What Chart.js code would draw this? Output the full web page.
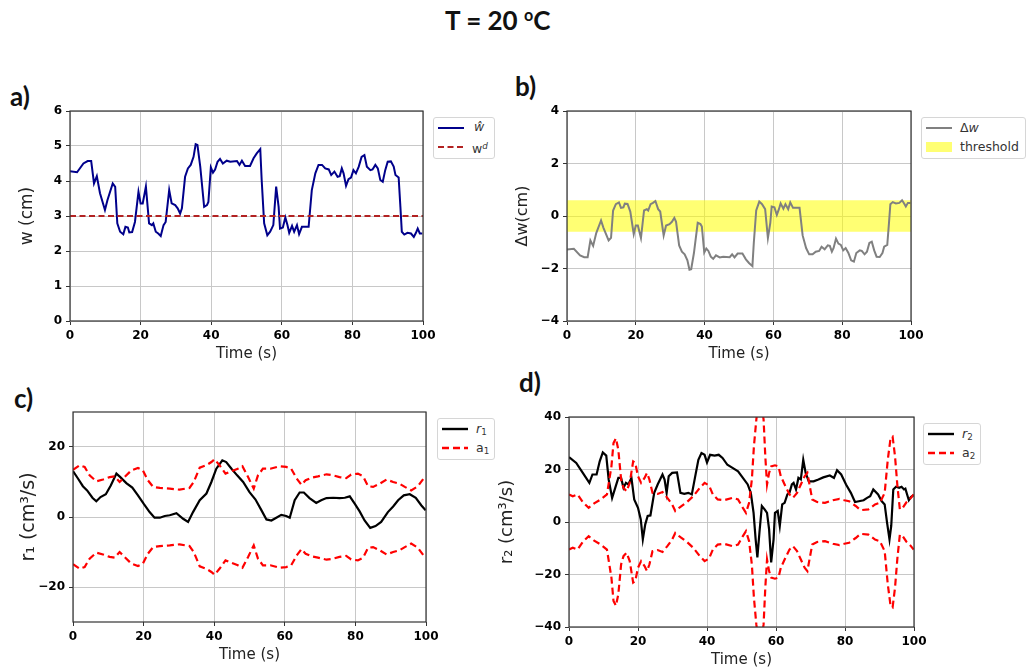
<!DOCTYPE html>
<html>
<head>
<meta charset="utf-8">
<script src="https://cdn.jsdelivr.net/npm/chart.js@4.4.0/dist/chart.umd.min.js"></script>
<style>
  body { margin: 0; width: 1035px; height: 670px; overflow: hidden; background: #fff; position: relative; font-family: 'DejaVu Sans'; }
  canvas { position: absolute; }
  .lbl { position: absolute; font-family: Lato; font-weight: bold; color: #111; white-space: nowrap; }
  .lbl sup { font-size: 0.62em; vertical-align: 0.55em; }
  .leg { position: absolute; border: 1px solid #d6d6d6; border-radius: 3px; background: #fff; font-size: 12.5px; color: #333; }
  .leg svg { position: absolute; left: 4px; }
  .leg span { position: absolute; line-height: 14px; white-space: nowrap; }
  .leg sub { font-size: 0.7em; vertical-align: -0.25em; }
  .leg sup { font-size: 0.7em; vertical-align: 0.5em; }
</style>
</head>
<body>
<div class="lbl" style="left:445px;top:4px;font-size:26px">T = 20 <sup>o</sup>C</div>
<div class="lbl" style="left:10px;top:80px;font-size:26px">a)</div>
<div class="lbl" style="left:515px;top:70px;font-size:26px">b)</div>
<div class="lbl" style="left:14px;top:382px;font-size:26px">c)</div>
<div class="lbl" style="left:519px;top:366px;font-size:26px">d)</div>

<canvas id="chartA"></canvas>
<canvas id="chartB"></canvas>
<canvas id="chartC"></canvas>
<canvas id="chartD"></canvas>

<!-- legends -->
<div class="leg" style="left:433px;top:117px;width:60px;height:40px">
  <svg width="28" height="40" style="top:0"><line x1="0" y1="10" x2="26" y2="10" stroke="#00008b" stroke-width="2"/><line x1="0" y1="29" x2="26" y2="29" stroke="#b22222" stroke-width="2" stroke-dasharray="6,3.5"/></svg>
  <span style="left:40px;top:2px"><i>ŵ</i></span>
  <span style="left:38px;top:21px">w<sup><i>d</i></sup></span>
</div>
<div class="leg" style="left:921px;top:117px;width:103px;height:40px">
  <svg width="28" height="40" style="top:0"><line x1="0" y1="10" x2="26" y2="10" stroke="#808080" stroke-width="2"/><rect x="0" y="24" width="26" height="10" fill="rgba(255,255,0,0.55)"/></svg>
  <span style="left:38px;top:3px">Δ<i>w</i></span>
  <span style="left:38px;top:22px">threshold</span>
</div>
<div class="leg" style="left:437px;top:418px;width:56px;height:40px">
  <svg width="28" height="40" style="top:0"><line x1="0" y1="10" x2="26" y2="10" stroke="#000" stroke-width="2.4"/><line x1="0" y1="29" x2="26" y2="29" stroke="#ff0000" stroke-width="2.4" stroke-dasharray="7,4"/></svg>
  <span style="left:38px;top:3px"><i>r</i><sub>1</sub></span>
  <span style="left:38px;top:22px">a<sub>1</sub></span>
</div>
<div class="leg" style="left:923px;top:423px;width:56px;height:40px">
  <svg width="28" height="40" style="top:0"><line x1="0" y1="10" x2="26" y2="10" stroke="#000" stroke-width="2.4"/><line x1="0" y1="29" x2="26" y2="29" stroke="#ff0000" stroke-width="2.4" stroke-dasharray="7,4"/></svg>
  <span style="left:38px;top:3px"><i>r</i><sub>2</sub></span>
  <span style="left:38px;top:22px">a<sub>2</sub></span>
</div>

<script>
// ---- data ----
const xTicks = [0, 20, 40, 60, 80, 100];

// a) measured width and the set point
const tW = [0, 2, 3.8, 5, 6, 6.8, 7.6, 8.5, 9.9, 10.6, 12.1, 12.8, 13.4, 14.2, 15.1, 15.7, 16.4, 16.8, 17.6, 18.4,
  19.4, 20.0, 20.6, 21.5, 22.4, 23.2, 23.6, 24.3, 25.0, 25.7, 26.5, 27.1, 28.1, 28.8, 29.8, 30.5, 31.2, 31.7, 32.6, 33.4,
  34.2, 35.0, 35.6, 36.1, 36.9, 38.0, 38.8, 39.2, 39.9, 40.5, 41.1, 41.8, 42.5, 43.3, 44.4, 45.4, 47.3, 48.0, 48.7, 49.6,
  51.0, 52.0, 52.9, 53.9, 54.3, 55.0, 55.9, 56.7, 57.6, 58.4, 59.1, 59.5, 60.3, 61.0, 61.6, 62.1, 62.9, 63.5, 64.3, 64.9,
  65.7, 66.6, 67.6, 68.5, 69.5, 70.4, 71.4, 72.3, 73.3, 74.0, 74.9, 75.8, 76.4, 77.0, 77.5, 78.2, 78.9, 79.6, 80.3, 81.0,
  81.8, 82.6, 83.4, 84.1, 85.1, 85.7, 86.5, 87.2, 87.9, 88.6, 89.3, 90.0, 90.9, 91.7, 92.2, 93.1, 93.6, 94.0, 94.7, 95.6,
  96.6, 97.4, 98.0, 98.5, 99.1, 99.8];
const wHat = [4.28, 4.25, 4.5, 4.57, 4.57, 3.93, 4.14, 3.65, 3.17, 3.45, 3.93, 3.83, 2.79, 2.55, 2.48, 2.69, 2.67, 2.53, 2.54, 2.83,
  3.69, 3.36, 3.36, 3.84, 2.79, 2.74, 2.79, 2.55, 2.5, 2.43, 2.74, 2.83, 3.74, 3.36, 3.31, 3.22, 3.07, 3.22, 4.12, 4.36,
  4.46, 4.69, 5.05, 5.03, 4.41, 3.26, 3.31, 3.4, 4.39, 4.24, 4.33, 4.55, 4.63, 4.5, 4.58, 4.55, 4.57, 4.46, 4.58, 4.43,
  4.43, 4.65, 4.79, 4.91, 4.03, 2.79, 2.45, 2.55, 2.74, 3.84, 3.26, 2.64, 2.67, 2.96, 2.74, 2.52, 2.72, 2.55, 2.74, 2.48,
  2.69, 2.69, 2.69, 3.74, 4.22, 4.46, 4.46, 4.36, 4.33, 4.17, 4.27, 4.12, 4.14, 4.36, 4.22, 3.86, 4.05, 4.1, 4.31, 4.22,
  4.41, 4.69, 4.74, 4.41, 4.31, 4.33, 4.46, 4.36, 4.03, 3.98, 4.31, 4.55, 4.56, 4.41, 4.17, 4.1, 3.26, 2.55, 2.47, 2.52,
  2.5, 2.4, 2.52, 2.64, 2.5, 2.5];
const wDesired = [3, 3];
const wDesiredT = [0, 100];
const yTicksA = [0, 1, 2, 3, 4, 5, 6];

// b) deviation from the set point, same time stamps as a)
const dW = [-1.28, -1.25, -1.5, -1.57, -1.57, -0.93, -1.14, -0.65, -0.17, -0.45, -0.93, -0.83, 0.21, 0.45, 0.52, 0.31, 0.33, 0.47, 0.46, 0.17,
  -0.69, -0.36, -0.36, -0.84, 0.21, 0.26, 0.21, 0.45, 0.5, 0.57, 0.26, 0.17, -0.74, -0.36, -0.31, -0.22, -0.07, -0.22, -1.12, -1.36,
  -1.46, -1.69, -2.05, -2.03, -1.41, -0.26, -0.31, -0.4, -1.39, -1.24, -1.33, -1.55, -1.63, -1.5, -1.58, -1.55, -1.57, -1.46, -1.58, -1.43,
  -1.43, -1.65, -1.79, -1.91, -1.03, 0.21, 0.55, 0.45, 0.26, -0.84, -0.26, 0.36, 0.33, 0.04, 0.26, 0.48, 0.28, 0.45, 0.26, 0.52,
  0.31, 0.31, 0.31, -0.74, -1.22, -1.46, -1.46, -1.36, -1.33, -1.17, -1.27, -1.12, -1.14, -1.36, -1.22, -0.86, -1.05, -1.1, -1.31, -1.22,
  -1.41, -1.69, -1.74, -1.41, -1.31, -1.33, -1.46, -1.36, -1.03, -0.98, -1.31, -1.55, -1.56, -1.41, -1.17, -1.1, -0.26, 0.45, 0.53, 0.48,
  0.5, 0.6, 0.48, 0.36, 0.5, 0.5];
const bandT = [0, 100];
const bandHigh = [0.6, 0.6];
const bandLow = [-0.6, -0.6];
const yTicksB = [-4, -2, 0, 2, 4];

// c) r1 and its bounds a1
const tR1 = [0, 1.4, 2.8, 4.0, 5.5, 6.6, 7.8, 9.3, 10.7, 12.3, 13.4, 15.1, 16.8, 18.4, 20.0, 21.7, 23.1, 24.6, 26.0, 27.4,
  29.3, 31.2, 32.6, 34.0, 35.9, 37.8, 39.2, 40.6, 42.3, 43.4, 44.9, 46.5, 48.2, 50.0, 51.7, 53.4, 54.8, 56.2, 57.6, 59.0,
  60.4, 61.4, 62.8, 64.2, 65.4, 67.0, 68.9, 70.3, 71.8, 73.7, 75.5, 77.0, 78.4, 79.8, 81.2, 82.6, 84.2, 85.7, 87.3, 89.2,
  90.7, 92.1, 93.7, 95.4, 97.1, 98.7, 99.9];
const r1 = [13.1, 11.0, 8.8, 7.6, 5.5, 4.5, 5.7, 6.5, 9.0, 12.4, 11.4, 9.7, 8.4, 6.2, 3.8, 1.4, -0.2, -0.2, 0.3, 0.5,
  1.1, -0.5, -1.4, 1.4, 4.8, 6.7, 10.0, 13.8, 16.2, 15.7, 13.8, 11.9, 10.0, 7.1, 5.0, 1.9, -0.7, -1.0, -0.2, 0.6,
  0.3, -0.2, 4.8, 7.0, 7.0, 5.4, 4.0, 4.8, 5.4, 5.5, 5.4, 5.5, 5.9, 3.8, 1.6, -1.0, -3.1, -2.6, -1.4, 1.4,
  3.0, 4.8, 6.2, 6.5, 5.5, 3.3, 1.9];
const tA1 = [0, 1.9, 3.3, 4.7, 6.6, 8.5, 10.4, 11.8, 13.2, 14.6, 16.5, 18.4, 19.8, 21.2, 22.7, 24.6, 27.4, 30.2, 33.0, 34.2,
  35.9, 37.8, 39.2, 40.1, 41.5, 43.2, 44.9, 46.7, 48.0, 49.6, 51.2, 52.4, 53.8, 55.9, 58.5, 60.4, 61.8, 63.3, 64.7, 65.9,
  67.5, 69.4, 71.8, 73.7, 75.5, 77.4, 78.8, 80.7, 82.2, 83.6, 85.0, 86.9, 88.8, 90.7, 92.5, 94.0, 95.8, 97.7, 99.6];
const a1Up = [13.5, 14.8, 14.3, 11.9, 10.2, 10.7, 11.4, 11.6, 10.0, 11.4, 13.3, 14.0, 13.3, 10.5, 8.6, 8.3, 8.1, 7.8, 8.3, 10.0,
  14.1, 14.8, 15.7, 16.5, 14.8, 12.4, 13.1, 13.8, 14.5, 11.4, 8.1, 11.9, 13.8, 13.8, 14.5, 14.3, 13.8, 11.1, 9.2, 10.5,
  11.2, 11.6, 12.2, 11.9, 11.4, 11.1, 12.1, 12.4, 11.6, 8.8, 8.6, 9.5, 10.7, 10.0, 9.5, 8.6, 7.6, 8.8, 11.4];
const a1Low = [-13.5, -14.8, -14.3, -11.9, -10.2, -10.7, -11.4, -11.6, -10.0, -11.4, -13.3, -14.0, -13.3, -10.5, -8.6, -8.3, -8.1, -7.8, -8.3, -10.0,
  -14.1, -14.8, -15.7, -16.5, -14.8, -12.4, -13.1, -13.8, -14.5, -11.4, -8.1, -11.9, -13.8, -13.8, -14.5, -14.3, -13.8, -11.1, -9.2, -10.5,
  -11.2, -11.6, -12.2, -11.9, -11.4, -11.1, -12.1, -12.4, -11.6, -8.8, -8.6, -9.5, -10.7, -10.0, -9.5, -8.6, -7.6, -8.8, -11.4];
const yTicksC = [-20, 0, 20];

// d) r2 and its bounds a2
const tR2 = [0, 2.1, 4.0, 5.9, 6.8, 8.0, 8.9, 9.8, 10.8, 11.5, 12.5, 13.4, 14.3, 15.1, 15.8, 16.5, 17.2, 18.1, 18.9, 20.0,
  20.8, 21.4, 22.1, 22.8, 23.6, 24.7, 25.7, 26.4, 27.1, 27.7, 28.3, 28.9, 29.9, 31.3, 32.3, 33.4, 34.6, 35.6, 36.5, 37.5,
  38.4, 39.3, 40.0, 40.9, 42.2, 43.4, 44.5, 45.9, 47.4, 49.0, 50.4, 51.8, 52.7, 53.5, 54.1, 54.6, 55.2, 55.9, 56.7, 57.4,
  58.0, 58.6, 59.3, 59.7, 60.5, 61.1, 61.8, 62.5, 63.3, 63.9, 64.6, 65.1, 65.8, 66.5, 67.2, 67.9, 68.6, 69.5, 70.9, 72.3,
  73.7, 75.6, 76.8, 77.7, 78.9, 80.3, 81.7, 82.9, 84.0, 85.4, 86.4, 87.3, 88.2, 89.6, 90.6, 91.5, 92.2, 92.9, 93.4, 94.0,
  94.8, 95.7, 96.4, 97.1, 97.5, 98.5, 99.1, 99.9];
const r2 = [24.7, 22.5, 18.7, 14.9, 18.1, 18.1, 23.1, 26.5, 25.3, 16.2, 9.2, 13.0, 16.8, 16.8, 13.0, 14.9, 14.3, 16.8, 8.6, 5.4,
  1.0, -6.6, -0.9, 2.3, 2.5, 11.1, 14.3, 16.2, 18.1, 16.2, 11.1, 17.4, 18.7, 18.9, 11.1, 10.7, 11.1, 10.5, 16.8, 23.7,
  26.3, 25.6, 22.7, 25.6, 25.3, 25.6, 24.4, 21.8, 20.6, 19.3, 16.8, 14.3, 11.1, 3.5, -6.6, -13.5, -4.0, 6.1, 4.8, 3.5,
  -2.8, -15.4, -6.6, 3.5, 4.2, -1.5, 6.7, 7.3, 10.5, 11.1, 14.3, 14.9, 12.4, 16.8, 16.2, 23.7, 18.7, 15.5, 15.5, 16.2,
  17.0, 17.7, 16.8, 19.7, 18.1, 14.3, 11.1, 7.6, 7.9, 8.3, 9.2, 9.8, 12.4, 10.5, 8.0, 6.7, -0.3, -6.6, -1.5, 12.4,
  13.4, 13.0, 13.4, 12.4, 12.7, 8.3, 9.5, 10.2];
const tA2 = [0, 1.1, 2.5, 4.0, 5.7, 7.3, 9.2, 11.0, 12.3, 12.9, 13.6, 14.3, 15.1, 15.8, 16.7, 17.6, 18.6, 19.2, 20.0, 20.9,
  21.9, 22.6, 23.3, 24.2, 25.7, 27.1, 28.5, 29.9, 30.8, 32.3, 34.2, 36.0, 37.9, 39.3, 40.6, 41.7, 43.1, 45.0, 47.4, 49.0,
  50.4, 51.3, 52.2, 53.0, 53.6, 54.3, 55.3, 56.4, 56.9, 57.4, 58.0, 58.6, 59.7, 60.7, 61.4, 62.5, 63.9, 64.9, 66.1, 67.2,
  68.3, 69.1, 69.8, 70.5, 71.9, 74.2, 76.5, 78.4, 79.8, 81.2, 83.1, 84.5, 86.8, 88.7, 90.1, 91.5, 92.4, 93.2, 93.8, 94.5,
  95.2, 95.9, 96.8, 97.8, 99.0, 99.9];
const a2Up = [10.5, 9.8, 10.5, 7.6, 5.4, 7.1, 8.6, 10.5, 21.2, 30.1, 31.9, 27.5, 16.2, 13.0, 11.7, 14.9, 23.1, 22.5, 17.4, 14.9,
  16.8, 18.7, 16.2, 11.1, 10.7, 11.4, 9.2, 6.7, 4.2, 5.8, 7.6, 9.8, 13.0, 14.9, 13.9, 10.5, 8.6, 8.3, 9.2, 8.6,
  5.4, 3.5, 7.3, 16.2, 28.8, 39, 50, 39, 25, 14.3, 18.7, 21.2, 21.6, 21.2, 17.4, 14.3, 10.5, 9.2, 11.1, 14.3,
  17.4, 18.7, 13.6, 8.6, 7.6, 7.3, 8.3, 8.8, 8.3, 7.9, 6.1, 4.5, 4.8, 6.7, 7.3, 11.1, 23.7, 31.9, 32.5, 25,
  13.6, 4.8, 5.5, 7.5, 9, 10.5];
const a2Low = [-10.5, -9.8, -10.5, -7.6, -5.4, -7.1, -8.6, -10.5, -21.2, -30.1, -31.9, -27.5, -16.2, -13.0, -11.7, -14.9, -23.1, -22.5, -17.4, -14.9,
  -16.8, -18.7, -16.2, -11.1, -10.7, -11.4, -9.2, -6.7, -4.2, -5.8, -7.6, -9.8, -13.0, -14.9, -13.9, -10.5, -8.6, -8.3, -9.2, -8.6,
  -5.4, -3.5, -7.3, -16.2, -28.8, -39, -50, -39, -25, -14.3, -18.7, -21.2, -21.6, -21.2, -17.4, -14.3, -10.5, -9.2, -11.1, -14.3,
  -17.4, -18.7, -13.6, -8.6, -7.6, -7.3, -8.3, -8.8, -8.3, -7.9, -6.1, -4.5, -4.8, -6.7, -7.3, -11.1, -23.7, -31.9, -32.5, -25,
  -13.6, -4.8, -5.5, -7.5, -9, -10.5];
const yTicksD = [-40, -20, 0, 20, 40];

// ---- helpers ----
const pts = (ts, vs) => ts.map((t, i) => ({ x: t, y: vs[i] }));
const minus = v => String(v).replace('-', '\u2212');

// black frame round the plot area (all four spines)
const frame = {
  id: 'frame',
  afterDatasetsDraw(chart) {
    const { ctx, chartArea: a } = chart;
    ctx.save();
    ctx.strokeStyle = '#333';
    ctx.lineWidth = 1.2;
    ctx.strokeRect(a.left, a.top, a.right - a.left, a.bottom - a.top);
    ctx.restore();
  }
};

function line(data, color, width, dash, order) {
  return {
    data: data, borderColor: color, borderWidth: width, borderDash: dash || [],
    pointRadius: 0, tension: 0, fill: false, order: order
  };
}

// box = plot area in page pixels; axisW = room left of the plot for ticks + title
function panel(id, box, yMin, yMax, yTicks, yTitle, titleSize, titlePad, datasets) {
  const padT = 20, padR = 25, axisH = 45;
  const cv = document.getElementById(id);
  cv.width = box.r - box.l + box.axisW + padR;
  cv.height = box.b - box.t + padT + axisH;
  cv.style.left = (box.l - box.axisW) + 'px';
  cv.style.top = (box.t - padT) + 'px';

  const tickFont = { family: 'DejaVu Sans', size: 12, weight: 'bold' };
  const grid = { color: '#c8c8c8', lineWidth: 1, tickColor: '#333', tickLength: 4 };

  return new Chart(cv, {
    type: 'line',
    data: { datasets: datasets },
    options: {
      responsive: false,
      animation: false,
      devicePixelRatio: 1,
      layout: { padding: { top: padT, right: padR, left: 0, bottom: 0 } },
      plugins: { legend: { display: false }, tooltip: { enabled: false } },
      scales: {
        x: {
          type: 'linear', min: 0, max: 100,
          afterBuildTicks: s => { s.ticks = xTicks.map(v => ({ value: v })); },
          afterFit: s => { s.height = axisH; },
          grid: grid,
          border: { display: false },
          ticks: { color: '#000', font: tickFont, padding: 4, maxRotation: 0, callback: minus },
          title: { display: true, text: 'Time (s)', color: '#222',
                   font: { family: 'DejaVu Sans', size: 15 }, padding: { top: 0, bottom: 3 } }
        },
        y: {
          type: 'linear', min: yMin, max: yMax,
          afterBuildTicks: s => { s.ticks = yTicks.map(v => ({ value: v })); },
          afterFit: s => { s.width = box.axisW; },
          grid: grid,
          border: { display: false },
          ticks: { color: '#000', font: tickFont, padding: 4, callback: minus },
          title: { display: true, text: yTitle, color: '#222',
                   font: { family: 'DejaVu Sans', size: titleSize }, padding: { top: titlePad, bottom: 0 } }
        }
      }
    },
    plugins: [frame]
  });
}

// a)
panel('chartA', { l: 70, r: 423, t: 111, b: 321, axisW: 70 }, 0, 6, yTicksA, 'w (cm)', 17, 17, [
  line(pts(tW, wHat), '#00008b', 2, null, 1),
  line(pts(wDesiredT, wDesired), '#b22222', 2, [6, 3.5], 0)
]);

// b)
panel('chartB', { l: 567, r: 911, t: 111, b: 321, axisW: 70 }, -4, 4, yTicksB, 'Δw(cm)', 16, 16, [
  { data: pts(bandT, bandHigh), borderWidth: 0, pointRadius: 0, fill: '+1',
    backgroundColor: 'rgba(255,255,0,0.55)', order: 1 },
  { data: pts(bandT, bandLow), borderWidth: 0, pointRadius: 0, fill: false, order: 1 },
  line(pts(tW, dW), '#808080', 2, null, 0)
]);

// c)
panel('chartC', { l: 73, r: 426, t: 412, b: 622, axisW: 73 }, -30, 30, yTicksC, 'r₁ (cm³/s)', 19, 18, [
  line(pts(tR1, r1), '#000', 2.2, null, 1),
  line(pts(tA1, a1Up), '#ff0000', 2.2, [7, 4], 0),
  line(pts(tA1, a1Low), '#ff0000', 2.2, [7, 4], 0)
]);

// d)
panel('chartD', { l: 569, r: 914, t: 417, b: 627, axisW: 72 }, -40, 40, yTicksD, 'r₂ (cm³/s)', 18, 0, [
  line(pts(tR2, r2), '#000', 2.2, null, 1),
  line(pts(tA2, a2Up), '#ff0000', 2.2, [7, 4], 0),
  line(pts(tA2, a2Low), '#ff0000', 2.2, [7, 4], 0)
]);
</script>
</body>
</html>
